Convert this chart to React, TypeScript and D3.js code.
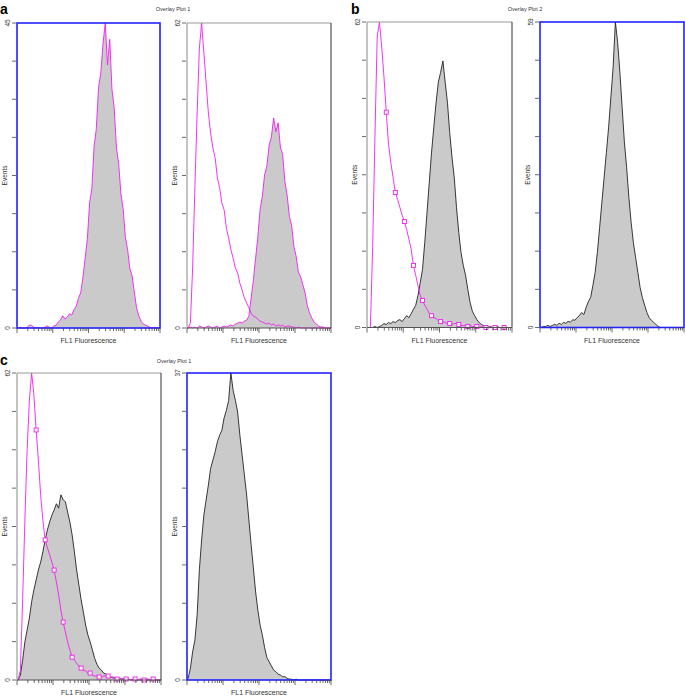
import React, { useEffect, useRef } from 'react';
import * as d3 from 'd3';

// 64 channels spread over 4 log decades (16 per decade)
const N_CHANNELS = 64;

// panel a
const a1Gray = [0, 0.1, 0, 0, 0.1, 0.4, 0.4, 0.1, 0, 0.1, 0, 0, 0.1, 0.3, 0.1, 0,
  0.3, 0.4, 0.9, 1.2, 1.8, 1.3, 1.6, 2.1, 1.9, 2.7, 3.2, 4.4, 5.2, 7.4, 10.3, 13.2,
  18.5, 20.6, 26.8, 29.4, 35.5, 37.6, 42.0, 45.0, 38.8, 42.6, 35.2, 32.5, 26.6, 24.3, 19.8, 17.6,
  13.4, 11.6, 8.8, 7.7, 5.3, 3.0, 1.8, 1.0, 0.6, 0.4, 0.3, 0.1, 0, 0.1, 0, 0];
const a2Gray = [0, 0.2, 0, 0.2, 0, 0.4, 0.2, 0, 0.2, 0.4, 0.2, 0, 0.2, 0.4, 0, 0.2,
  0.4, 0.2, 0.4, 0.6, 0.4, 0.8, 1.0, 1.2, 1.0, 1.4, 1.6, 2.4, 6.1, 9.8, 14.2, 18.6,
  24.1, 26.8, 31.2, 32.9, 37.2, 38.8, 42.7, 39.9, 41.7, 36.8, 35.3, 29.8, 27.0, 22.7, 20.9, 16.6,
  14.6, 11.4, 10.4, 8.8, 7.1, 4.5, 3.0, 2.0, 1.2, 0.8, 0.4, 0.2, 0.2, 0, 0, 0];
const a2Magenta = [0, 1.0, 12.2, 28.5, 43.7, 56.9, 62.0, 55.9, 49.8, 43.7, 39.6, 36.6, 34.6, 30.5, 28.5, 25.4,
  24.0, 20.3, 18.3, 15.9, 14.2, 12.2, 11.2, 9.1, 7.7, 6.1, 5.1, 4.1, 3.0, 2.4, 2.2, 1.8,
  1.4, 1.2, 1.0, 0.8, 1.0, 0.6, 0.8, 0.4, 0.6, 0.4, 0.6, 0.2, 0.4, 0.4, 0.2, 0.2,
  0, 0.2, 0, 0, 0, 0, 0, 0, 0, 0, 0, 0, 0, 0, 0, 0];

// panel b
const b1Gray = [0, 0, 0, 0.2, 0, 0.2, 0.4, 0.8, 0.6, 1.0, 0.8, 1.2, 1.0, 1.4, 1.6, 1.2,
  1.8, 2.4, 2.0, 2.8, 3.7, 4.5, 6.5, 9.1, 11.8, 17.3, 23.4, 29.5, 35.6, 40.7, 45.7, 49.8,
  51.8, 54.1, 49.8, 45.7, 39.6, 34.6, 30.5, 24.4, 19.3, 15.2, 12.6, 10.6, 7.7, 5.1, 3.3, 2.4,
  1.6, 1.0, 0.6, 0.4, 0.2, 0, 0.2, 0, 0, 0.2, 0, 0, 0, 0, 0, 0];
const b1Magenta = [0, 0, 16.3, 38.6, 59.0, 62.0, 56.9, 50.8, 43.7, 37.2, 33.5, 30.5, 27.4, 26.0, 24.4, 22.8,
  21.5, 19.9, 17.9, 15.9, 12.6, 10.6, 8.5, 6.5, 5.5, 4.5, 3.7, 2.8, 2.4, 2.0, 1.8, 1.4,
  1.2, 1.2, 1.0, 0.8, 0.8, 0.6, 0.8, 0.8, 0.6, 0.4, 0.4, 0.4, 0.2, 0.4, 0.2, 0.2,
  0.2, 0, 0.2, 0, 0, 0.2, 0, 0, 0, 0, 0, 0, 0, 0, 0, 0];
const b2Gray = [0, 0.2, 0.2, 0.4, 0.2, 0.4, 0.6, 0.4, 0.8, 0.6, 1.0, 0.8, 1.2, 1.0, 1.5, 1.4,
  1.9, 2.3, 2.9, 2.5, 3.9, 5.0, 5.8, 8.1, 10.6, 14.5, 19.3, 24.2, 29.0, 33.8, 38.7, 44.5,
  50.3, 59.0, 55.1, 49.3, 42.5, 35.8, 30.9, 25.1, 20.3, 16.4, 13.5, 10.6, 7.7, 5.8, 4.3, 2.9,
  1.9, 1.4, 1.0, 0.6, 0.2, 0, 0, 0, 0, 0, 0, 0, 0, 0, 0, 0];

// panel c
const c1Gray = [0, 1.0, 4.0, 7.7, 10.1, 12.5, 15.8, 18.2, 20.2, 22.2, 23.8, 25.9, 28.3, 30.3, 31.9, 33.3,
  34.3, 35.6, 34.7, 37.4, 36.4, 36.0, 33.9, 31.9, 29.3, 25.9, 22.2, 19.2, 16.2, 13.7, 11.1, 9.1,
  7.7, 6.1, 4.4, 3.2, 2.4, 2.0, 1.4, 1.2, 0.8, 0.6, 0.6, 0.4, 0.4, 0.2, 0.2, 0.2,
  0, 0.2, 0, 0, 0, 0, 0, 0, 0, 0, 0, 0, 0, 0, 0, 0];
const c1Magenta = [0, 2.0, 16.2, 32.3, 46.5, 56.5, 62.0, 57.6, 50.5, 44.4, 37.4, 32.3, 28.3, 26.7, 25.3, 23.8,
  22.2, 19.8, 17.2, 14.1, 11.7, 9.7, 7.7, 6.1, 4.6, 4.0, 3.4, 2.8, 2.4, 2.0, 1.8, 1.4,
  1.4, 1.0, 0.8, 0.8, 0.6, 0.6, 0.8, 0.8, 0.8, 0.6, 0.4, 0.4, 0.2, 0.4, 0.2, 0.2,
  0.2, 0.2, 0, 0.2, 0.2, 0, 0.2, 0.2, 0, 0.2, 0.2, 0, 0.2, 0.2, 0, 0];
const c2Gray = [0.2, 1.4, 3.4, 4.8, 7.8, 13.3, 16.9, 19.9, 21.7, 23.5, 25.5, 26.5, 27.5, 28.7, 29.5, 30.1,
  31.6, 32.5, 33.7, 37.0, 34.9, 33.7, 32.3, 29.5, 27.1, 24.7, 22.3, 19.3, 16.3, 13.5, 10.6, 8.4,
  6.6, 5.4, 3.9, 2.7, 2.2, 1.7, 1.2, 1.0, 0.7, 0.6, 0.4, 0.4, 0.2, 0.1, 0.1, 0,
  0.1, 0, 0, 0, 0, 0, 0, 0, 0, 0, 0, 0, 0, 0, 0, 0];

// y-axis maximum per plot: a1, a2, b1, b2, c1, c2
const yMax = [45, 62, 62, 59, 62, 37];
const xDomain = [1, 10000];

const MAGENTA = '#f01ef0';
const FILL = '#cacaca';
const BLUE = '#2222ff';
const FONT = 'Liberation Sans, Arial, sans-serif';

const plots = [
  { x: 17, y: 23, w: 143, h: 305, max: yMax[0], blue: true,
    series: [{ values: a1Gray, fill: FILL, stroke: MAGENTA }] },
  { x: 187, y: 23, w: 144, h: 305, max: yMax[1], blue: false,
    series: [{ values: a2Gray, fill: FILL, stroke: MAGENTA }, { values: a2Magenta, stroke: MAGENTA }] },
  { x: 367, y: 22, w: 145, h: 305.5, max: yMax[2], blue: false,
    series: [{ values: b1Gray, fill: FILL, stroke: '#222' }, { values: b1Magenta, stroke: MAGENTA, markers: true }] },
  { x: 540, y: 22, w: 144, h: 305.5, max: yMax[3], blue: true,
    series: [{ values: b2Gray, fill: FILL, stroke: '#222' }] },
  { x: 17, y: 373, w: 144, h: 307, max: yMax[4], blue: false,
    series: [{ values: c1Gray, fill: FILL, stroke: '#222' }, { values: c1Magenta, stroke: MAGENTA, markers: true }] },
  { x: 187, y: 373, w: 144, h: 307, max: yMax[5], blue: true,
    series: [{ values: c2Gray, fill: FILL, stroke: '#222' }] },
];

const headings = [
  { text: 'a', x: 0, y: 14 },
  { text: 'b', x: 351, y: 14 },
  { text: 'c', x: 0, y: 365 },
];
const overlayTitles = [
  { text: 'Overlay Plot 1', x: 173, y: 11 },
  { text: 'Overlay Plot 2', x: 525, y: 11 },
  { text: 'Overlay Plot 1', x: 174, y: 363 },
];

const App = () => {
  const svgRef = useRef(null);

  useEffect(() => {
    const svg = d3.select(svgRef.current);
    svg.selectAll('*').remove();

    headings.forEach(hd => {
      svg.append('text').attr('x', hd.x).attr('y', hd.y).text(hd.text)
        .style('font-family', FONT).style('font-size', '14px').style('font-weight', 'bold');
    });
    overlayTitles.forEach(t => {
      svg.append('text').attr('x', t.x).attr('y', t.y).attr('text-anchor', 'middle').text(t.text)
        .style('font-family', FONT).style('font-size', '5.5px').attr('fill', '#333');
    });

    plots.forEach(p => {
      const g = svg.append('g').attr('transform', `translate(${p.x},${p.y})`);
      const x = d3.scaleLinear().domain([0, N_CHANNELS]).range([0, p.w]);
      const xLog = d3.scaleLog().domain(xDomain).range([0, p.w]);
      const y = d3.scaleLinear().domain([0, p.max]).range([p.h, 0]);

      const pts = (vals) => [[0, 0], ...vals.map((v, i) => [i + 0.5, v]), [N_CHANNELS, 0]];
      const area = d3.area().x(d => x(d[0])).y0(p.h).y1(d => y(d[1]));
      const line = d3.line().x(d => x(d[0])).y(d => y(d[1]));

      p.series.forEach(s => {
        if (s.fill) {
          g.append('path').datum(pts(s.values)).attr('d', area).attr('fill', s.fill);
        }
      });
      p.series.forEach(s => {
        g.append('path').datum(pts(s.values)).attr('d', line)
          .attr('fill', 'none').attr('stroke', s.stroke).attr('stroke-width', 0.9)
          .attr('stroke-linejoin', 'round');
        if (s.markers) {
          const marks = s.values.map((v, i) => [i + 0.5, v]).filter((d, i) => i >= 8 && (i - 8) % 4 === 0);
          g.selectAll(null).data(marks).enter().append('rect')
            .attr('x', d => x(d[0]) - 2).attr('y', d => y(d[1]) - 2)
            .attr('width', 4).attr('height', 4)
            .attr('fill', 'white').attr('stroke', MAGENTA).attr('stroke-width', 0.9);
        }
      });

      // frame
      if (p.blue) {
        g.append('rect').attr('width', p.w).attr('height', p.h)
          .attr('fill', 'none').attr('stroke', BLUE).attr('stroke-width', 1.6);
      } else {
        g.append('line').attr('x1', 0).attr('x2', p.w).attr('y1', 0).attr('y2', 0).attr('stroke', '#999');
        g.append('line').attr('x1', 0).attr('x2', 0).attr('y1', 0).attr('y2', p.h).attr('stroke', '#888');
        g.append('line').attr('x1', p.w).attr('x2', p.w).attr('y1', 0).attr('y2', p.h).attr('stroke', '#333');
        g.append('line').attr('x1', 0).attr('x2', p.w).attr('y1', p.h).attr('y2', p.h).attr('stroke', '#555');
      }

      // y ticks
      d3.range(9).forEach(k => {
        const yy = y((k * p.max) / 8);
        g.append('line').attr('x1', -5).attr('x2', -1).attr('y1', yy).attr('y2', yy)
          .attr('stroke', '#444').attr('stroke-width', 0.8);
      });
      const yLabel = (txt, yy, dx) => g.append('text')
        .attr('transform', `translate(${dx},${yy}) rotate(-90)`)
        .attr('text-anchor', 'middle').text(txt)
        .style('font-family', FONT).style('font-size', '6.5px').attr('fill', '#333');
      yLabel(String(p.max), y(p.max), -7);
      yLabel('0', y(0), -7);
      yLabel('Events', p.h / 2, -10);

      // x ticks (log)
      xLog.ticks().forEach(t => {
        const major = Math.abs(Math.log10(t) - Math.round(Math.log10(t))) < 1e-9;
        const xx = xLog(t);
        g.append('line').attr('x1', xx).attr('x2', xx).attr('y1', p.h).attr('y2', p.h + (major ? 5 : 3))
          .attr('stroke', '#444').attr('stroke-width', 0.8);
      });
      g.append('text').attr('x', p.w / 2).attr('y', p.h + 15).attr('text-anchor', 'middle')
        .text('FL1 Fluorescence').style('font-family', FONT).style('font-size', '7px').attr('fill', '#333');
    });
  }, []);

  return (
    <div style={{ position: 'absolute', left: 0, top: 0 }}>
      <svg ref={svgRef} width={685} height={696} style={{ display: 'block', background: 'white' }} />
    </div>
  );
};

export default App;
